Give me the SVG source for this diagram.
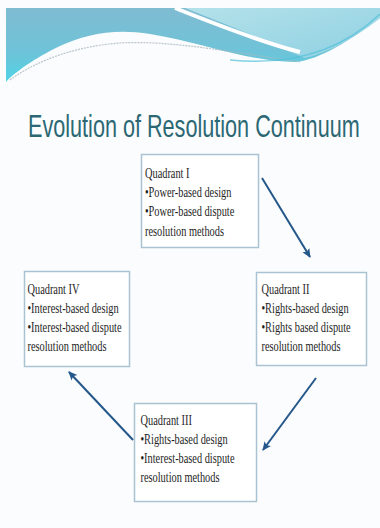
<svg xmlns="http://www.w3.org/2000/svg" width="380" height="528" viewBox="0 0 380 528">
<style>
.box{fill:#ffffff;stroke:#a9c3d3;stroke-width:1.5}
.t{font-family:"Liberation Serif","Times New Roman",serif;font-size:15px;fill:#1e1e1e}
.title{font-family:"Liberation Sans",Arial,sans-serif;font-size:32px;fill:#2b6874}
.conn{stroke:#24578a;stroke-width:2;fill:none;marker-end:url(#ah)}
</style>
<defs>
<marker id="ah" markerWidth="10" markerHeight="10" refX="8" refY="5" orient="auto" markerUnits="userSpaceOnUse">
<path d="M0,1 L9,5 L0,9 L2,5 Z" fill="#24578a"/>
</marker>
<linearGradient id="gb" x1="0" y1="0" x2="0" y2="1">
<stop offset="0" stop-color="#80bcd2"/>
<stop offset="0.6" stop-color="#6ec3d8"/>
<stop offset="1" stop-color="#4fd4e6"/>
</linearGradient>
<linearGradient id="gl" x1="0" y1="0" x2="1" y2="1">
<stop offset="0" stop-color="#b4e2ea"/>
<stop offset="1" stop-color="#8fd0e2"/>
</linearGradient>
</defs>
<rect x="0" y="0" width="380" height="528" fill="#fbfcfd"/>
<g id="header">
<path d="M6,8 H380 V18 C350,40 320,60 295,62 C250,62 200,42 150,34 C115,28 85,34 60,46 C35,58 15,72 6,82 Z" fill="url(#gb)"/>
<path d="M185,8 H380 V18 C355,38 330,52 305,58 C285,50 260,38 230,26 C210,18 195,12 185,8 Z" fill="url(#gl)"/>
<path d="M175,8 C210,22 260,42 300,52" stroke="#ffffff" stroke-width="4" fill="none"/>
<path d="M10,80 C40,58 80,46 120,43 C170,40 230,52 300,62" stroke="#a9b8bf" stroke-width="1.2" stroke-dasharray="2 1" fill="none" opacity="0.8"/>
<path d="M230,60 C290,66 340,52 380,14" stroke="#4ebfd9" stroke-width="1.5" fill="none" opacity="0.7"/>
</g>
<g transform="translate(28,137) scale(0.676,1)">
<text class="title" x="0" y="0">Evolution of Resolution Continuum</text>
</g>
<g id="q1">
<rect class="box" x="141.5" y="154.5" width="117" height="93"/>
<g transform="translate(145,0) scale(0.69,1)">
<text class="t" x="0" y="178">Quadrant I</text>
<text class="t" x="0" y="197">•Power-based design</text>
<text class="t" x="0" y="216.5">•Power-based dispute</text>
<text class="t" x="0" y="236">resolution methods</text>
</g>
</g>
<g id="q2">
<rect class="box" x="256.5" y="272.5" width="110" height="93"/>
<g transform="translate(261.5,0) scale(0.69,1)">
<text class="t" x="0" y="294">Quadrant II</text>
<text class="t" x="0" y="313">•Rights-based design</text>
<text class="t" x="0" y="332">•Rights based dispute</text>
<text class="t" x="0" y="351">resolution methods</text>
</g>
</g>
<g id="q3">
<rect class="box" x="134.5" y="403.5" width="122" height="98"/>
<g transform="translate(140.5,0) scale(0.69,1)">
<text class="t" x="0" y="425">Quadrant III</text>
<text class="t" x="0" y="444">•Rights-based design</text>
<text class="t" x="0" y="463">•Interest-based dispute</text>
<text class="t" x="0" y="482">resolution methods</text>
</g>
</g>
<g id="q4">
<rect class="box" x="24.5" y="271.5" width="105" height="95"/>
<g transform="translate(27.5,0) scale(0.69,1)">
<text class="t" x="0" y="294">Quadrant IV</text>
<text class="t" x="0" y="313">•Interest-based design</text>
<text class="t" x="0" y="332">•Interest-based dispute</text>
<text class="t" x="0" y="351">resolution methods</text>
</g>
</g>
<g id="connectors">
<line class="conn" x1="262" y1="178" x2="310" y2="257"/>
<line class="conn" x1="316" y1="378" x2="263" y2="450"/>
<line class="conn" x1="133" y1="440" x2="69" y2="372"/>
</g>
</svg>
